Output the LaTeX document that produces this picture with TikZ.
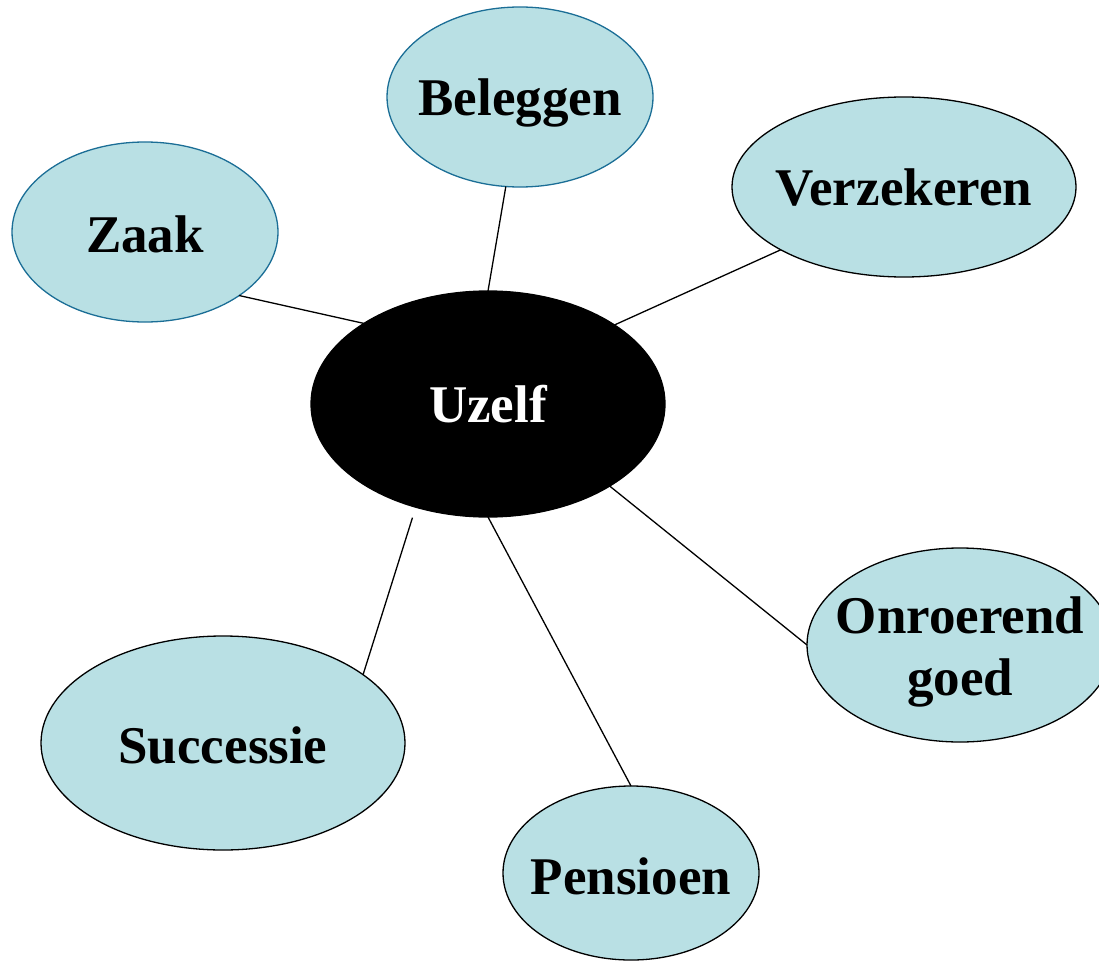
\documentclass[tikz,border=0pt]{standalone}
\usepackage{fontspec}
\setmainfont{Liberation Serif}
\usetikzlibrary{shapes.geometric}

\definecolor{bubblefill}{RGB}{185,224,228}
\definecolor{bubbleedge}{RGB}{27,110,150}

\tikzset{
  bubble/.style={ellipse, draw, fill=bubblefill, line width=1.3pt, inner sep=0pt, outer sep=0pt},
  bubbletext/.style={font=\fontsize{53}{62}\selectfont\bfseries, align=center, text depth=0pt, inner sep=0pt},
  spoke/.style={line width=1.3pt}
}

\begin{document}
\begin{tikzpicture}[x=1pt, y=-1pt]
  \useasboundingbox (0,0) rectangle (1099,960);
  \clip (0,0) rectangle (1099,960); % onroerend goed runs off the right edge

  % centre
  \node[bubble, fill=black, minimum width=354pt, minimum height=226pt,
        label={[bubbletext, text=white]center:Uzelf}] at (488,404) (uzelf) {};

  % the six topics: name/x/y/width/height/edge/text shift/text
  \foreach \name/\cx/\cy/\w/\h/\edge/\dy/\txt in {
      zaak/145/232/266/180/bubbleedge/-2/Zaak,
      beleggen/520/97/266/180/bubbleedge/0/Beleggen,
      verzekeren/904/187/344/180/black/0/Verzekeren,
      onroerend/960/645/306/194/black/-1/{Onroerend\\goed},
      successie/223/743/364/214/black/-2/Successie,
      pensioen/631/873/256/174/black/-3/Pensioen}{
    \node[bubble, draw=\edge, minimum width=\w pt, minimum height=\h pt,
          label={[bubbletext, yshift=\dy pt]center:\txt}] at (\cx,\cy) (\name) {};
  }

  \foreach \from/\a/\to/\b in {uzelf/147/zaak/326.4, uzelf/90/beleggen/261.8,
      uzelf/32.8/verzekeren/207.9, uzelf/326.7/onroerend/180, uzelf/270/pensioen/90}
    \draw[spoke] (\from.\a) -- (\to.\b);
  \draw[spoke, shorten <=11pt] (uzelf.235) -- (successie.26);
\end{tikzpicture}
\end{document}
